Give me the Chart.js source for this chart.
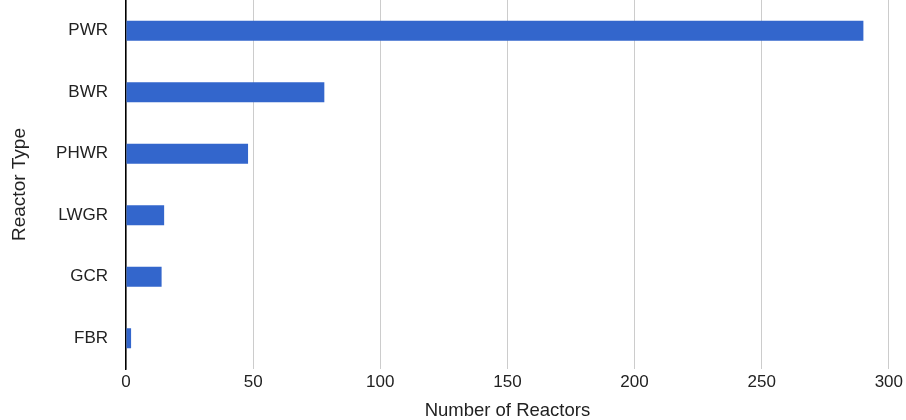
<!DOCTYPE html>
<html>
<head>
<meta charset="utf-8">
<script src="https://cdn.jsdelivr.net/npm/chart.js@4"></script>
<style>
  html, body { margin: 0; padding: 0; background: #fff; }
  #wrap { width: 906px; height: 420px; position: relative; }
</style>
</head>
<body>
<div id="wrap"><canvas id="reactorChart"></canvas></div>
<script>
// reactor types and counts
const reactorTypes = ['PWR', 'BWR', 'PHWR', 'LWGR', 'GCR', 'FBR'];
const reactorCounts = [290, 78, 48, 15, 14, 2];
const countTicks = [0, 50, 100, 150, 200, 250, 300];

const FONT = "'Liberation Sans', Arial, sans-serif";
const TEXT = '#222';

const ctx = document.getElementById('reactorChart').getContext('2d');

new Chart(ctx, {
    type: 'bar',
    data: {
        labels: reactorTypes,
        datasets: [{
            label: 'Number of Reactors',
            data: reactorCounts,
            backgroundColor: '#3366cc',
            borderWidth: 0,
            barPercentage: 0.65,
            categoryPercentage: 0.5
        }]
    },
    options: {
        indexAxis: 'y',
        responsive: true,
        maintainAspectRatio: false,
        animation: false,
        layout: {
            padding: { left: 0, right: 16, top: 0, bottom: 0 }
        },
        plugins: {
            legend: { display: false },
            tooltip: { enabled: false }
        },
        scales: {
            x: {
                min: countTicks[0],
                max: countTicks[countTicks.length - 1],
                afterBuildTicks: function (scale) {
                    scale.ticks = countTicks.map(v => ({ value: v }));
                },
                afterFit: function (scale) {
                    scale.height = 51;
                },
                grid: {
                    color: '#cccccc',
                    lineWidth: 1,
                    drawTicks: false
                },
                border: { display: false },
                ticks: {
                    color: TEXT,
                    padding: 3,
                    font: { family: FONT, size: 17 }
                },
                title: {
                    display: true,
                    text: 'Number of Reactors',
                    color: TEXT,
                    padding: { top: 0, bottom: 0 },
                    font: { family: FONT, size: 18.5, lineHeight: 1 }
                }
            },
            y: {
                afterFit: function (scale) {
                    // keep the plot flush with the top edge like the original
                    scale.width = 126;
                    scale.paddingTop = 0;
                    scale.paddingBottom = 0;
                },
                grid: {
                    display: false,
                    drawTicks: false
                },
                border: {
                    display: true,
                    color: '#000',
                    width: 1.5
                },
                ticks: {
                    color: TEXT,
                    padding: 18,
                    font: { family: FONT, size: 17 }
                },
                title: {
                    display: true,
                    text: 'Reactor Type',
                    color: TEXT,
                    padding: { top: 10, bottom: 0 },
                    font: { family: FONT, size: 19, lineHeight: 1 }
                }
            }
        }
    }
});
</script>
</body>
</html>
